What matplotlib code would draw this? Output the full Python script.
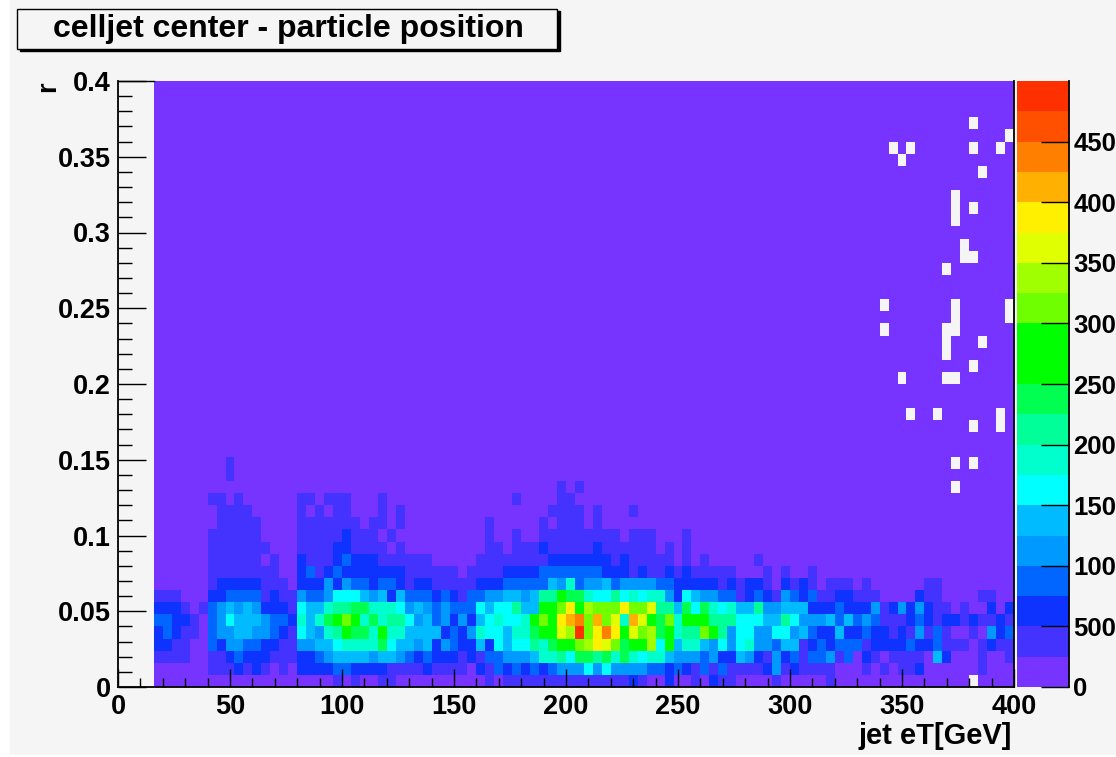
import numpy as np
import matplotlib
matplotlib.use('Agg')
import matplotlib.pyplot as plt
from matplotlib.colors import ListedColormap, BoundaryNorm
from matplotlib.patches import Rectangle

plt.rcParams['font.family'] = ['Liberation Sans', 'DejaVu Sans']
plt.rcParams['font.weight'] = 'bold'

W, H = 1116, 757

title = 'celljet center - particle position'
xlabel = 'jet eT[GeV]'
ylabel = 'r'
x_ticks = [0, 50, 100, 150, 200, 250, 300, 350, 400]
x_minor = list(range(0, 401, 10))
y_ticks = [0, 0.05, 0.1, 0.15, 0.2, 0.25, 0.3, 0.35, 0.4]
y_labels = ['0', '0.05', '0.1', '0.15', '0.2', '0.25', '0.3', '0.35', '0.4']
y_minor = [i / 100 for i in range(0, 41)]
z_ticks = [0, 500, 1000, 1500, 2000, 2500, 3000, 3500, 4000, 4500]
# the labels as they can be read in the picture, where the right edge cuts the last digit
z_labels = ['0', '500', '100', '150', '200', '250', '300', '350', '400', '450']
z_step = 250
n_levels = 20

colors = ['#7733ff', '#4433ff', '#0f33ff', '#0066ff', '#0099ff', '#00bbff', '#00ffff',
          '#00ffcc', '#00ff99', '#00ff50', '#00ff00', '#00ff00', '#70ff00', '#a0ff00',
          '#e0ff00', '#fff000', '#ffb000', '#ff8000', '#ff5000', '#ff3000']

row00 = [0,0,0,0,0,0,0,0,0,0,0,0,0,0,0,0, 0,0,0,0,1,0,1,0,0,1,1,0,0,0,0,0, 0,0,0,0,0,1,0,1,1,1,1,1,1,1,1,1, 1,1,1,1,1,2,1,0,0,2,0,0,1,0,2,1, 1,0,0,0,0,1,0,0,0,0,0,1,0,0,0,0, 0,0,0,0,0,0,0,0,0,0,0,0,0,0,0,0]
row01 = [0,0,0,0,0,0,1,1,1,2,1,2,1,0,1,0, 2,2,2,2,3,3,2,2,2,2,1,1,1,1,2,1, 1,1,1,0,2,1,3,2,3,2,3,2,3,4,4,4, 6,4,6,4,4,4,4,3,3,2,3,2,1,3,1,3, 1,1,1,1,2,4,1,2,1,1,1,1,0,0,0,1, 0,1,0,1,1,2,0,0,0,0,0,0,1,0,0,0]
row02 = [1,1,1,1,0,0,1,1,2,3,2,2,2,1,1,1, 2,2,3,4,5,5,5,5,4,5,5,4,3,2,3,2, 2,2,1,2,1,3,3,4,4,4,5,7,7,8,6,9, 9,8,9,7,9,7,6,7,7,5,4,4,4,3,4,2, 2,5,4,2,1,4,2,3,1,3,3,4,1,3,0,2, 1,0,1,1,1,1,0,5,2,0,0,0,1,0,0,1]
row03 = [2,2,1,1,0,0,3,2,4,4,3,3,2,2,1,1, 4,4,5,5,6,7,7,7,7,9,6,5,5,4,5,2, 4,3,2,2,5,2,6,5,6,6,8,7,9,10,10,12, 13,15,14,12,9,10,10,13,6,10,5,7,7,5,4,6, 4,6,7,4,4,3,5,5,1,2,3,2,3,3,3,1, 2,2,2,2,3,2,2,3,1,1,1,0,1,2,1,1]
row04 = [2,3,2,1,1,0,3,4,4,5,5,4,4,3,2,1, 6,5,4,7,8,10,9,9,7,10,7,7,5,5,5,5, 2,3,2,4,7,6,6,5,7,7,9,10,10,14,13,19, 12,15,17,15,10,14,12,13,9,10,7,8,8,12,10,8, 4,6,6,4,4,6,6,4,5,3,2,2,5,2,2,3, 2,2,1,2,1,4,1,3,1,0,0,1,0,4,2,3]
row05 = [3,3,2,2,1,0,3,4,6,5,5,5,4,3,3,2, 7,5,7,9,10,12,10,7,9,7,8,8,6,4,5,3, 4,2,4,2,5,6,7,6,6,7,10,12,10,15,16,17, 12,16,12,14,7,16,14,10,9,12,7,10,10,10,8,8, 8,6,6,6,5,5,8,6,4,4,4,5,3,5,3,4, 3,1,1,1,2,3,2,1,2,2,1,2,1,1,2,1]
row06 = [2,2,2,1,0,1,3,4,5,4,5,4,2,2,2,1, 6,5,5,7,8,8,9,9,7,7,7,6,4,5,4,3, 4,3,3,3,6,5,6,6,8,5,5,10,10,12,15,10, 13,12,12,12,15,12,12,14,8,8,5,9,6,9,7,6, 7,5,5,8,4,4,5,5,5,2,2,2,3,2,2,2, 4,1,2,4,2,4,2,1,1,0,1,0,0,2,0,2]
row07 = [1,1,1,0,0,0,2,2,3,3,3,3,1,2,1,1, 4,3,3,4,6,6,6,5,4,5,2,5,3,3,3,2, 3,2,1,3,3,4,4,5,5,4,5,8,8,10,9,9, 7,6,6,8,6,7,6,7,7,4,2,6,5,4,4,3, 3,1,2,3,2,1,4,3,2,3,1,1,2,2,1,1, 1,0,0,0,0,2,1,1,0,0,0,0,1,1,0,0]
row08 = [0,0,0,0,0,0,1,2,2,2,2,2,1,1,1,0, 2,2,2,4,2,4,3,3,2,3,3,2,1,2,2,1, 1,1,1,1,2,2,2,3,3,3,3,3,5,4,7,3, 4,4,5,3,4,4,4,4,3,3,2,2,2,2,2,1, 2,1,2,2,1,0,2,1,2,1,0,1,1,1,0,1, 0,0,0,0,0,0,1,1,0,0,0,0,0,0,0,0]
row09 = [0,0,0,0,0,0,1,1,1,1,1,1,1,1,0,0, 2,3,1,2,3,2,2,2,2,2,2,2,1,1,1,1, 1,1,0,1,1,1,1,2,2,2,2,3,3,3,3,3, 3,3,2,2,2,1,2,1,1,2,1,2,1,1,1,1, 1,0,0,0,1,0,1,0,0,1,0,0,0,0,0,0, 0,0,0,0,0,0,0,0,0,0,0,0,0,0,0,0]
row10 = [0,0,0,0,0,0,1,1,1,1,1,1,0,1,0,0, 2,1,1,1,2,3,2,2,2,1,1,1,1,1,1,0, 0,0,0,0,1,1,1,1,1,1,1,1,2,2,2,2, 2,2,2,1,2,1,1,1,1,1,0,1,0,1,0,0, 0,0,0,1,0,0,0,0,0,0,0,0,0,0,0,0, 0,0,0,0,0,0,0,0,0,0,0,0,0,0,0,0]
row11 = [0,0,0,0,0,0,1,1,1,1,1,1,1,0,0,0, 1,1,1,1,2,2,1,1,1,1,0,1,0,0,0,0, 0,0,0,0,0,1,1,0,1,1,1,2,1,1,1,1, 1,2,1,1,1,1,1,1,0,1,0,1,0,0,0,0, 0,0,0,0,0,0,0,0,0,0,0,0,0,0,0,0, 0,0,0,0,0,0,0,0,0,0,0,0,0,0,0,0]
row12 = [0,0,0,0,0,0,1,1,1,1,1,1,0,0,0,0, 1,1,1,1,1,2,1,1,1,0,1,0,0,0,0,0, 0,0,0,0,0,1,0,0,1,0,0,1,1,1,1,1, 1,1,1,1,0,1,1,1,0,0,0,1,0,0,0,0, 0,0,0,0,0,0,0,0,0,0,0,0,0,0,0,0, 0,0,0,0,0,0,0,0,0,0,0,0,0,0,0,0]
row13 = [0,0,0,0,0,0,0,1,1,1,1,1,0,0,0,0, 1,1,1,1,1,1,1,0,1,1,0,1,0,0,0,0, 0,0,0,0,0,1,0,0,0,0,0,1,0,1,1,1, 0,1,0,0,0,0,0,0,0,0,0,0,0,0,0,0, 0,0,0,0,0,0,0,0,0,0,0,0,0,0,0,0, 0,0,0,0,0,0,0,0,0,0,0,0,0,0,0,0]
row14 = [0,0,0,0,0,0,0,1,1,1,1,0,0,0,0,0, 1,0,1,0,1,1,0,0,0,1,0,1,0,0,0,0, 0,0,0,0,0,0,0,0,0,0,0,0,1,1,1,1, 0,1,0,0,0,1,0,0,0,0,0,0,0,0,0,0, 0,0,0,0,0,0,0,0,0,0,0,0,0,0,0,0, 0,0,0,0,0,0,0,0,0,0,0,0,0,0,0,0]
row15 = [0,0,0,0,0,0,1,1,0,1,0,0,0,0,0,0, 1,1,0,1,1,1,0,0,0,1,0,0,0,0,0,0, 0,0,0,0,0,0,0,0,1,0,0,0,0,1,1,0, 0,0,0,0,0,0,0,0,0,0,0,0,0,0,0,0, 0,0,0,0,0,0,0,0,0,0,0,0,0,0,0,0, 0,0,0,0,0,0,0,0,0,0,0,0,0,0,0,0]
row16 = [0,0,0,0,0,0,0,0,0,0,0,0,0,0,0,0, 0,0,0,0,0,0,0,0,0,0,0,0,0,0,0,0, 0,0,0,0,0,0,0,0,0,0,0,0,0,1,0,1, 0,0,0,0,0,0,0,0,0,0,0,0,0,0,0,0, 0,0,0,0,0,0,0,0,0,0,0,0,0,0,0,0, 0,0,0,0,0,0,0,0,0,0,0,0,0,0,0,0]
row17 = [0,0,0,0,0,0,0,0,1,0,0,0,0,0,0,0] + [0] * 80
row18 = [0,0,0,0,0,0,0,0,1,0,0,0,0,0,0,0] + [0] * 80

# bins with no entries, drawn as background
empty_col = [95, 99, 86, 88, 95, 98, 87, 96, 93, 93, 93, 95, 94, 94, 95, 92, 85, 93, 93, 93, 99, 99,
             85, 92, 92, 92, 96, 95, 87, 92, 93, 88, 91, 98, 98, 95, 93, 95, 93, 95]
empty_row = [46, 45, 44, 44, 44, 44, 43, 42, 40, 39, 38, 39, 36, 35, 35, 34, 31, 31, 30, 29, 31, 30,
             29, 29, 28, 27, 28, 26, 25, 25, 25, 22, 22, 22, 21, 21, 18, 18, 16, 0]
first_col = 4

rows = [row00, row01, row02, row03, row04, row05, row06, row07, row08, row09,
        row10, row11, row12, row13, row14, row15, row16, row17, row18]
bands = np.zeros((50, 100))
bands[:len(rows), first_col:] = np.array(rows)
counts = (bands + 0.5) * z_step
mask = np.zeros(counts.shape, dtype=bool)
mask[:, :first_col] = True
mask[empty_row, empty_col] = True
counts = np.ma.array(counts, mask=mask)

x_edges = np.linspace(0, 400, 101)
y_edges = np.linspace(0, 0.4, 51)
levels = np.arange(n_levels + 1) * z_step

bg = '#f5f5f5'
fig = plt.figure(figsize=(W / 100, H / 100), dpi=100, facecolor='white')
fig.add_artist(Rectangle((10 / W, 2 / H), 1 - 10 / W, 1 - 2 / H, transform=fig.transFigure,
                         facecolor=bg, edgecolor='none', zorder=-5))

ax = fig.add_axes([118 / W, 1 - 687 / H, 896 / W, 606 / H])
ax.set_facecolor(bg)
cmap = ListedColormap(colors)
norm = BoundaryNorm(levels, n_levels)
mesh = ax.pcolormesh(x_edges, y_edges, counts, cmap=cmap, norm=norm)
ax.set_xlim(0, 400)
ax.set_ylim(0, 0.4)
ax.set_axisbelow(False)

ax.set_xticks(x_ticks)
ax.set_xticks(x_minor, minor=True)
ax.set_yticks(y_ticks)
ax.set_yticklabels(y_labels)
ax.set_yticks(y_minor, minor=True)
ax.tick_params(axis='x', which='major', direction='in', length=13, width=1, labelsize=19.5, pad=5)
ax.tick_params(axis='x', which='minor', direction='in', length=6.5, width=1)
ax.tick_params(axis='y', which='major', direction='in', length=20, width=1, labelsize=19.5, pad=5)
ax.tick_params(axis='y', which='minor', direction='in', length=10, width=1)
for s in ['left', 'bottom', 'right']:
    ax.spines[s].set_linewidth(1.3)
ax.spines['top'].set_bounds(0, first_col * 4)
ax.spines['top'].set_linewidth(1)

fig.text(1012 / W, 1 - 736 / H, xlabel, ha='right', va='center', fontsize=21, fontweight='bold')
fig.text(48 / W, 1 - 87 / H, ylabel, ha='center', va='center', rotation=90, fontsize=19.5, fontweight='bold')

cax = fig.add_axes([1017 / W, 1 - 687 / H, 52 / W, 606 / H])
cb = fig.colorbar(mesh, cax=cax, ticks=z_ticks, drawedges=False)
cb.outline.set_visible(False)
cb.minorticks_off()
cax.set_yticks(z_ticks)
cax.set_yticklabels(z_labels)
cax.spines['right'].set_visible(True)
cax.spines['right'].set_linewidth(1.3)
cax.tick_params(axis='y', direction='in', length=20, width=1, labelsize=18.5, pad=3)

# title box with drop shadow
fig.add_artist(Rectangle((20 / W, 1 - 51 / H), 540 / W, 40 / H, transform=fig.transFigure,
                         facecolor='black', edgecolor='black', zorder=5))
fig.add_artist(Rectangle((17 / W, 1 - 49 / H), 540 / W, 40 / H, transform=fig.transFigure,
                         facecolor=bg, edgecolor='black', linewidth=1, zorder=6))
fig.text(288 / W, 1 - 29 / H, title, ha='center', va='center', fontsize=23, fontweight='bold', zorder=7)

fig.savefig('out.png', dpi=100, facecolor=fig.get_facecolor())
